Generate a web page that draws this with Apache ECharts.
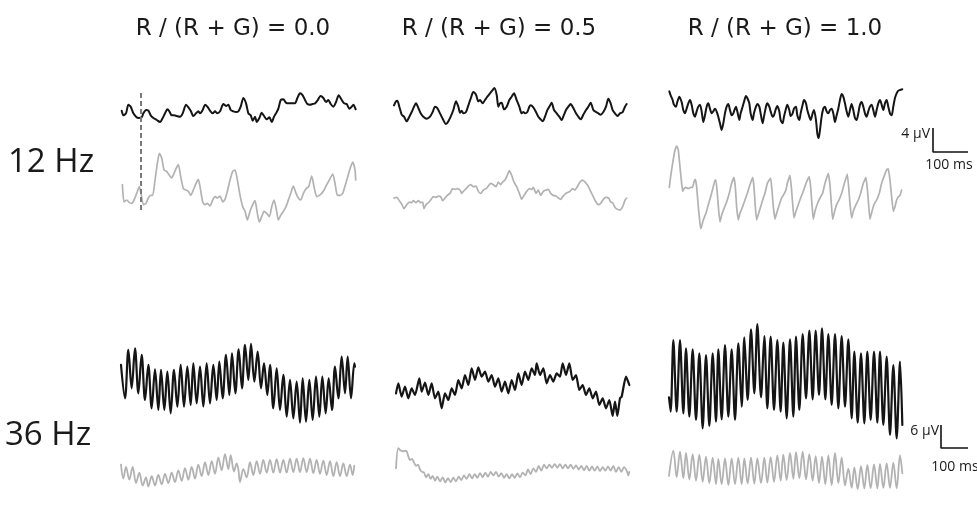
<!DOCTYPE html>
<html><head><meta charset="utf-8">
<script src="https://cdn.jsdelivr.net/npm/echarts/dist/echarts.min.js"></script>
<style>html,body{margin:0;padding:0;background:#fff}#c{width:977px;height:518px}</style>
</head><body><div id="c"></div>
<script>
// ---------------- DATA (time in ms, amplitude in µV-like units) ----------------
const columnTitles = ['R / (R + G) = 0.0', 'R / (R + G) = 0.5', 'R / (R + G) = 1.0'];
const rowLabels = ['12 Hz', '36 Hz'];

const black12_00 = [[0,-0.1],[5,-0.8],[13,-0.5],[20,0.8],[27,0.5],[35,-0.5],[43,-1.0],[50,-1.2],[60,-1.1],[65,-0.5],[73,0],[80,-0.1],[87,-0.8],[95,-1.2],[105,-1.5],[115,-1.8],[123,-1.2],[130,-0.5],[137,0.1],[143,-0.2],[150,-0.8],[157,-0.8],[165,-0.9],[175,-1.0],[183,-0.5],[193,0.8],[200,0.4],[207,-0.1],[215,-0.9],[223,-0.5],[230,-0.2],[235,-0.5],[243,0],[250,0.8],[257,0.5],[265,-0.1],[273,-0.5],[280,-0.2],[287,-0.5],[295,-0.2],[305,0.9],[313,0.6],[320,0.8],[327,0],[335,-0.2],[343,-0.3],[350,-0.2],[357,0.5],[365,1.8],[373,1.0],[380,-0.5],[387,-0.8],[393,-1.6],[400,-1.0],[405,-1.8],[413,-1.2],[420,-0.4],[427,-0.9],[435,-1.4],[443,-1.1],[450,-1.8],[457,-1.0],[463,-0.5],[470,0.2],[477,1.5],[485,1.6],[493,1.1],[500,1.0],[510,1.0],[520,1.0],[527,1.8],[535,2.5],[543,2.2],[550,1.5],[557,0.9],[565,0.8],[573,0.9],[580,1.0],[587,1.4],[597,2.1],[605,1.8],[613,1.2],[620,1.5],[627,0.9],[635,0.5],[643,1.2],[651,2.2],[660,1.5],[667,1.0],[675,0.9],[683,0.2],[690,0.5],[695,0.8],[702,0.1]];
const gray12_00 = [[2,0.8],[7,-1.8],[15,-1.5],[23,-1.9],[30,-2.0],[37,-1.5],[45,-0.5],[53,0.5],[58,-0.5],[65,-2.2],[73,-2.0],[80,-1.2],[87,-0.8],[93,-0.8],[100,1.5],[107,4.0],[113,5.5],[120,4.8],[127,3.0],[135,2.8],[143,2.2],[150,1.8],[157,2.5],[163,3.2],[170,3.8],[177,2.0],[185,0.2],[193,0],[200,-0.2],[207,-0.8],[215,0],[223,1.0],[230,1.6],[235,0.5],[243,-1.8],[250,-2.2],[257,-2.0],[265,-2.4],[273,-1.5],[280,-1.0],[287,-1.2],[295,-0.9],[303,-1.8],[310,-1.4],[317,-0.2],[325,1.5],[333,2.8],[340,3.0],[347,1.5],[355,-0.8],[363,-2.5],[370,-3.2],[377,-4.5],[385,-3.2],[393,-2.2],[400,-1.6],[407,-3.5],[413,-4.8],[420,-4.0],[427,-3.2],[435,-3.5],[443,-4.0],[450,-2.5],[457,-1.5],[465,-3.2],[470,-4.5],[477,-3.8],[485,-3.2],[493,-2.5],[500,-1.5],[507,-0.5],[515,0.6],[523,-0.5],[530,-1.2],[537,-1.5],[545,-0.5],[553,0.2],[561,0.5],[570,2.1],[577,0.5],[585,-1.0],[593,-0.8],[600,-0.5],[607,0],[615,0.8],[623,1.5],[633,2.4],[640,1.0],[647,-0.8],[655,-0.8],[663,-0.5],[670,0.6],[677,1.8],[685,3.2],[693,4.2],[700,3.0],[702,1.5]];

const black12_05 = [[0,0.2],[6,0.8],[10,0.9],[16,0],[23,-1.2],[30,-1.5],[38,-2.2],[46,-1.5],[53,-0.8],[60,0],[66,0.5],[73,-0.2],[80,-1.0],[88,-1.5],[98,-1.8],[108,-1.5],[116,-0.8],[123,0],[130,-0.2],[138,-1.0],[146,-1.8],[156,-2.6],[163,-2.2],[170,-1.5],[178,-0.5],[186,0.8],[193,0],[198,-0.9],[203,-0.6],[208,-1.0],[216,-0.8],[223,0.2],[230,1.2],[238,2.2],[246,1.8],[253,0.8],[258,1.0],[266,0.5],[273,1.0],[280,1.5],[288,2.0],[296,2.5],[301,2.8],[308,1.8],[313,0],[318,0.5],[323,0.6],[330,-0.4],[338,0],[346,1.0],[353,1.5],[360,2.0],[368,1.0],[376,0],[383,-1.0],[388,-0.8],[393,-1.0],[400,-0.8],[406,0],[410,0.2],[418,-0.1],[426,-0.8],[433,-1.5],[440,-1.9],[446,-2.2],[453,-1.5],[460,-0.5],[466,0],[473,0.6],[480,-0.5],[488,-1.0],[496,-1.5],[503,-2.0],[510,-1.2],[516,-0.5],[523,0],[530,0.4],[538,-0.2],[546,-1.0],[553,-1.5],[560,-1.9],[568,-1.2],[576,-0.5],[583,0],[590,0.6],[598,-0.5],[606,-0.8],[613,-1.0],[620,-1.2],[628,-0.8],[636,0],[643,1.2],[650,0.5],[656,-0.5],[663,-1.0],[670,-1.4],[678,-1.0],[686,-0.8],[693,0],[698,0.4]];
const gray12_05 = [[0,-0.2],[8,-0.1],[16,-0.6],[23,-1.1],[30,-1.8],[38,-1.2],[46,-0.8],[53,-0.9],[58,-0.6],[66,-0.9],[73,-0.6],[80,-0.9],[86,-0.8],[90,-1.8],[96,-1.2],[103,-0.9],[110,-0.5],[118,0],[126,-0.1],[133,0.1],[140,0],[146,-0.6],[153,-0.2],[160,0.2],[168,0.5],[176,1.2],[183,1.1],[190,1.2],[198,1.0],[203,0.5],[208,0.8],[216,1.2],[223,1.6],[230,1.8],[238,1.5],[246,1.6],[253,0.8],[260,0.5],[268,1.0],[276,1.2],[283,1.6],[290,2.0],[298,1.8],[306,1.5],[313,2.2],[320,1.8],[326,2.2],[333,2.5],[340,3.2],[346,3.9],[353,3.2],[360,2.2],[368,1.5],[376,0.5],[383,-0.4],[390,0.2],[398,0.8],[406,1.2],[413,1.1],[418,1.4],[426,0.5],[433,1.0],[440,0.2],[448,0.8],[456,1.0],[463,1.1],[470,0.5],[478,0.2],[486,0.1],[493,-0.2],[500,-0.4],[506,0],[513,0.4],[520,0.6],[528,0.8],[536,1.2],[543,1.0],[550,1.5],[558,2.2],[566,2.5],[573,2.2],[580,1.8],[588,1.0],[596,0.2],[606,-0.8],[613,-1.2],[620,-1.0],[628,-0.4],[636,-0.1],[644,-0.2],[650,-0.8],[656,-0.9],[663,-1.6],[670,-1.9],[678,-2.0],[686,-1.5],[693,-0.5],[698,-0.2]];

const black12_10 = [[0,2.8],[4,2.2],[10,1.5],[14,0.8],[20,0.5],[24,1.2],[30,2.0],[37,1.2],[42,0],[47,-0.5],[52,0.2],[57,1.0],[62,1.5],[67,0.8],[72,-0.5],[77,-1.0],[82,-0.2],[87,0.5],[92,0.8],[97,-0.2],[102,-1.8],[107,-0.8],[112,0.5],[117,1.0],[122,0.2],[127,-0.5],[132,-0.2],[137,0.2],[144,-0.5],[152,-2.0],[157,-3.0],[162,-2.0],[167,-0.5],[172,0.5],[177,0.9],[182,0],[187,-0.8],[192,-0.5],[197,0.2],[200,0.5],[204,-0.2],[210,-1.5],[214,-0.5],[220,0.5],[224,1.2],[230,2.1],[234,1.8],[240,1.0],[244,-0.5],[250,-1.5],[254,-0.5],[260,0.5],[264,0.9],[270,0.5],[274,-0.5],[280,-2.0],[284,-1.0],[290,0.5],[294,1.0],[300,0.5],[304,-0.2],[310,-1.0],[314,-0.8],[320,0.2],[324,0.6],[330,-0.2],[334,-1.5],[340,-2.0],[344,-1.0],[350,0.2],[354,0.8],[360,0],[364,-0.9],[370,-0.5],[374,0.2],[380,0.5],[384,-0.8],[390,-1.5],[394,-0.5],[400,0.8],[404,1.5],[410,1.0],[414,0],[420,-1.0],[424,-1.5],[430,-0.5],[434,0],[440,-1.5],[444,-3.5],[448,-4.2],[452,-3.0],[457,-1.0],[462,0.2],[467,0.5],[472,-0.2],[477,-0.5],[482,0],[487,0.2],[492,-0.5],[497,-1.8],[502,-0.8],[507,0.2],[512,1.5],[517,2.4],[522,2.0],[527,1.0],[532,-0.2],[537,-1.0],[542,0],[547,0.9],[552,0],[557,-1.2],[562,-1.5],[567,-0.5],[572,0.8],[577,1.2],[582,0.5],[587,-0.5],[592,-1.0],[597,-0.2],[602,0.5],[607,0.8],[612,0],[617,-1.0],[622,0],[627,1.0],[632,1.5],[637,0.8],[642,0],[647,1.0],[652,1.5],[657,0.5],[662,-0.5],[667,-0.8],[672,0.5],[677,1.8],[682,2.5],[687,2.9],[692,3.0],[699,3.1]];
const gray12_10 = [[0,0.4],[4,2.0],[10,4.0],[17,6.0],[22,6.6],[27,6.0],[32,3.5],[37,1.0],[40,-0.2],[44,0.2],[50,0.4],[57,0.2],[64,0.4],[70,0.4],[74,1.2],[78,1.6],[82,0.5],[87,-2.5],[92,-5.0],[95,-5.8],[102,-4.5],[110,-3.5],[117,-2.2],[124,-1.0],[132,0.5],[137,1.5],[140,1.5],[144,-0.5],[148,-3.0],[152,-4.8],[157,-3.8],[164,-2.8],[172,-1.8],[180,-0.5],[187,1.0],[194,1.9],[198,0.5],[202,-2.5],[207,-4.5],[212,-3.5],[220,-2.5],[227,-1.5],[234,-0.5],[242,0.8],[250,1.9],[254,0.5],[258,-2.5],[262,-4.5],[268,-3.5],[276,-2.2],[282,-1.2],[287,-0.5],[294,1.0],[304,1.8],[308,0],[312,-2.5],[317,-4.4],[322,-3.5],[330,-2.2],[337,-1.2],[342,-0.8],[350,0],[354,1.0],[362,2.2],[366,0.5],[370,-2.0],[374,-4.2],[380,-3.2],[387,-2.2],[394,-1.2],[402,-0.2],[410,1.0],[420,2.0],[424,0.5],[428,-2.2],[432,-4.4],[437,-3.2],[444,-2.1],[452,-1.2],[460,-0.5],[467,1.0],[477,2.5],[482,0.8],[486,-2.0],[490,-4.4],[496,-3.2],[502,-2.2],[510,-1.4],[517,-0.5],[524,0.8],[534,2.4],[538,0.5],[542,-2.0],[547,-4.2],[552,-3.2],[560,-2.2],[567,-1.5],[574,-0.5],[582,1.0],[590,1.9],[594,0.2],[598,-2.2],[602,-4.4],[607,-3.4],[614,-2.2],[622,-1.5],[630,-0.5],[637,1.0],[644,2.0],[652,3.0],[657,3.2],[662,1.5],[667,-1.0],[672,-3.2],[677,-2.5],[682,-1.5],[687,-1.0],[692,-0.8],[697,0]];

const black36_00 = [[0,5.5],[12,-4.5],[22,10.0],[32,-1.5],[42,10.5],[52,-3.0],[62,8.5],[72,-5.0],[82,5.5],[92,-7.5],[102,4.2],[112,-8.0],[120,4.0],[130,-8.0],[139,3.5],[149,-9.0],[159,4.0],[169,-7.0],[179,5.5],[189,-7.0],[199,5.0],[209,-6.5],[217,6.0],[227,-6.0],[237,5.0],[247,-7.0],[257,6.0],[267,-6.0],[277,5.5],[287,-5.0],[295,6.5],[305,-4.5],[315,8.5],[325,-3.5],[333,9.0],[343,-3.0],[353,10.2],[363,-1.5],[372,11.5],[382,1.0],[390,11.8],[400,0.5],[410,9.5],[420,-1.5],[429,6.0],[439,-3.5],[447,5.5],[457,-7.5],[467,4.5],[477,-8.0],[487,2.5],[497,-10.0],[507,1.0],[517,-10.5],[527,0.5],[537,-11.8],[545,1.5],[555,-11.5],[565,1.0],[575,-11.0],[585,2.0],[595,-10.0],[604,2.0],[614,-9.0],[623,1.5],[633,-8.0],[642,5.0],[652,-4.5],[662,8.0],[672,-3.0],[680,8.0],[690,-4.5],[700,6.0],[702,5.0]];
const gray36_00 = [[0,3.0],[7,-3.0],[15,2.0],[25,-3.5],[35,2.0],[45,-5.0],[55,-0.5],[65,-6.0],[75,-2.5],[82,-6.5],[92,-2.0],[102,-6.0],[112,-1.5],[122,-5.5],[132,-1.0],[142,-5.0],[152,-0.5],[162,-4.5],[172,0.5],[182,-4.0],[192,1.5],[202,-3.5],[212,2.0],[222,-3.0],[232,3.0],[242,-2.0],[252,4.0],[262,-1.5],[272,4.5],[282,-1.0],[292,6.0],[302,0.5],[312,7.5],[322,1.0],[329,7.0],[339,0],[347,3.5],[352,1.0],[357,-4.5],[367,1.0],[377,-2.5],[387,4.0],[397,-1.5],[407,4.5],[417,-1.0],[427,5.0],[437,-0.5],[447,5.0],[457,-0.5],[467,5.3],[477,-0.5],[487,5.0],[497,-0.5],[507,5.5],[517,-0.3],[527,5.5],[537,-0.3],[547,5.7],[557,-0.3],[567,5.5],[577,-0.7],[587,5.0],[597,-1.0],[607,4.7],[617,-1.5],[627,4.5],[637,-2.0],[647,4.0],[657,-2.0],[667,3.5],[677,-2.0],[687,3.0],[695,-1.5],[700,2.5]];

const black36_05 = [[0,-1.0],[7,2.0],[17,-2.0],[27,1.0],[37,-2.5],[47,0.5],[57,-1.5],[70,3.5],[77,-0.5],[87,2.2],[97,-1.5],[107,2.0],[117,-2.5],[127,-0.5],[137,-5.5],[147,-1.0],[157,-3.0],[167,0.5],[177,-1.5],[187,3.0],[197,0.5],[207,4.5],[217,1.5],[227,6.5],[237,3.0],[247,6.8],[257,4.0],[267,5.5],[277,2.5],[287,4.5],[297,1.0],[307,3.5],[317,-0.5],[327,2.5],[337,-1.0],[347,3.0],[357,0],[367,5.0],[377,1.5],[387,5.5],[397,3.0],[407,6.5],[417,4.5],[422,8.0],[432,4.5],[442,6.5],[452,2.0],[462,4.5],[472,2.5],[482,5.0],[492,4.0],[500,8.0],[510,4.5],[520,8.0],[530,3.0],[540,4.5],[550,0],[560,1.5],[570,-1.5],[580,0.5],[590,-2.5],[600,-0.5],[610,-4.5],[620,-2.5],[630,-5.5],[640,-3.0],[650,-7.8],[657,-3.5],[664,-7.8],[672,-2.5],[677,-2.0],[690,4.0],[700,1.5]];
const gray36_05 = [[0,1.0],[7,9.5],[14,8.5],[22,8.2],[30,8.5],[37,6.0],[42,4.5],[48,5.0],[54,3.5],[60,2.0],[66,2.5],[72,0.5],[78,-0.5],[84,-0.8],[90,-2.8],[97,-1.5],[104,-3.5],[110,-2.2],[117,-4.2],[124,-2.5],[132,-4.5],[140,-2.8],[148,-5.0],[156,-3.2],[164,-4.8],[172,-3.0],[180,-4.5],[188,-2.5],[196,-4.0],[204,-2.0],[212,-3.5],[220,-1.5],[228,-3.2],[236,-1.5],[244,-3.0],[252,-1.0],[260,-2.8],[268,-0.8],[276,-2.5],[284,-0.5],[292,-2.0],[300,-0.5],[308,-2.5],[316,-1.0],[324,-3.0],[332,-1.5],[340,-3.2],[348,-1.5],[356,-3.0],[364,-1.2],[372,-2.8],[380,-0.8],[388,-2.0],[396,0.5],[404,-1.5],[412,1.0],[420,-0.5],[428,2.0],[436,0],[444,2.5],[452,1.0],[460,2.5],[468,1.2],[476,2.8],[484,1.2],[492,2.8],[500,1.0],[508,2.5],[516,1.0],[524,2.5],[532,0.8],[540,2.2],[548,0.5],[556,2.0],[564,0.2],[572,2.0],[580,0],[588,1.8],[596,0],[604,1.8],[612,-0.2],[620,1.5],[628,0],[636,1.8],[644,0],[652,2.0],[660,-0.5],[668,1.5],[676,-0.5],[684,1.5],[692,0],[697,-2.0],[700,-0.5]];

const black36_10 = [[0,-5.2],[5,-9.5],[13,12.0],[23,-9.5],[33,12.0],[43,-10.0],[51,9.5],[61,-11.0],[71,9.2],[81,-12.0],[91,8.0],[101,-14.5],[111,7.5],[121,-13.8],[131,8.0],[141,-12.5],[148,9.2],[158,-11.8],[168,10.5],[178,-11.0],[188,9.2],[198,-12.0],[208,11.0],[218,-8.0],[226,12.8],[236,-6.0],[246,15.2],[256,-4.0],[265,16.8],[276,-5.2],[286,13.2],[295,-8.5],[305,13.0],[315,-9.0],[325,12.0],[335,-9.5],[343,11.2],[353,-11.5],[363,12.2],[373,-11.0],[381,13.0],[391,-9.0],[401,13.8],[411,-5.5],[421,14.8],[431,-5.8],[440,14.8],[450,-4.5],[459,15.5],[469,-5.8],[478,13.8],[488,-7.5],[498,13.8],[508,-8.5],[518,13.2],[528,-8.0],[538,12.2],[548,-11.5],[556,8.5],[566,-12.8],[576,8.0],[586,-13.0],[595,8.5],[605,-12.0],[615,8.5],[625,-12.8],[633,8.5],[643,-13.5],[653,7.0],[663,-16.5],[673,4.5],[683,-17.5],[693,5.5],[700,-13.5]];
const gray36_10 = [[0,-2.5],[13,8.0],[23,-3.0],[33,7.5],[43,-3.5],[51,7.0],[61,-4.0],[71,6.5],[81,-4.5],[91,6.3],[101,-5.0],[111,5.5],[121,-5.5],[131,5.0],[141,-6.0],[148,4.5],[158,-6.0],[168,4.7],[178,-6.3],[188,4.7],[198,-6.0],[208,5.0],[218,-6.0],[226,4.7],[236,-5.7],[246,5.0],[256,-5.7],[265,4.7],[276,-5.5],[286,5.0],[295,-5.3],[305,5.3],[315,-5.0],[325,6.0],[335,-4.5],[343,6.3],[353,-4.3],[363,7.0],[373,-3.7],[381,7.3],[391,-3.5],[401,7.5],[411,-4.0],[421,6.5],[431,-4.5],[440,5.7],[450,-5.5],[459,5.5],[469,-6.0],[478,6.0],[488,-6.3],[498,7.0],[508,-5.5],[518,5.0],[528,-6.5],[538,0.5],[548,-7.5],[556,1.0],[566,-8.0],[576,1.5],[586,-7.7],[595,2.0],[605,-7.7],[615,2.3],[625,-7.7],[633,2.5],[643,-7.5],[653,2.7],[663,-7.5],[673,3.0],[683,-7.7],[693,6.0],[700,-1.5]];

const markerTimeMs = 58;                 // dashed vertical marker, panel 12 Hz / 0.0
const scaleBar12 = { amplitude: 4, duration: 100, unit: 'µV' };
const scaleBar36 = { amplitude: 6, duration: 100, unit: 'µV' };

// ---------------- LAYOUT (pixels) ----------------
const S12 = 20 / 3, S36 = 10 / 3;   // px per amplitude unit
const PX_PER_MS = 1 / 3;
const T_MAX = 720;
const BLACK = '#151515', GRAY = '#b2b2b2';
const traces = [
  { data: black12_00, x0: 121.7, y0: 110,    s: S12, R: 10, color: BLACK, w: 2,   sm: 0.25 },
  { data: gray12_00,  x0: 121.7, y0: 190,    s: S12, R: 10, color: GRAY,  w: 1.7, sm: 0.2 },
  { data: black12_05, x0: 394,   y0: 106.7,  s: S12, R: 10, color: BLACK, w: 2,   sm: 0.25 },
  { data: gray12_05,  x0: 394,   y0: 196.7,  s: S12, R: 10, color: GRAY,  w: 1.7, sm: 0.2 },
  { data: black12_10, x0: 669.3, y0: 110,    s: S12, R: 10, color: BLACK, w: 2,   sm: 0.25 },
  { data: gray12_10,  x0: 669.3, y0: 190,    s: S12, R: 10, color: GRAY,  w: 1.7, sm: 0.1 },
  { data: black36_00, x0: 121,   y0: 383.3,  s: S36, R: 20, color: BLACK, w: 2.2, sm: 0.35 },
  { data: gray36_00,  x0: 121,   y0: 491.7,  s: S36, R: 20, color: GRAY,  w: 1.8, sm: 0.35 },
  { data: black36_05, x0: 396,   y0: 390,    s: S36, R: 20, color: BLACK, w: 2.2, sm: 0.2 },
  { data: gray36_05,  x0: 396,   y0: 490,    s: S36, R: 20, color: GRAY,  w: 1.8, sm: 0.3 },
  { data: black36_10, x0: 669,   y0: 380,    s: S36, R: 20, color: BLACK, w: 2.2, sm: 0.3 },
  { data: gray36_10,  x0: 669,   y0: 488.3,  s: S36, R: 20, color: GRAY,  w: 1.8, sm: 0.35 }
];

const grid = [], xAxis = [], yAxis = [], series = [];
function addGrid(g, xa, ya, s) {
  const i = grid.length;
  grid.push(Object.assign({ containLabel: false, show: false }, g));
  xAxis.push(Object.assign({ type: 'value', gridIndex: i, show: false, splitLine: { show: false } }, xa));
  yAxis.push(Object.assign({ type: 'value', gridIndex: i, show: false, splitLine: { show: false } }, ya));
  series.push(Object.assign({ type: 'line', xAxisIndex: i, yAxisIndex: i, showSymbol: false, symbol: 'none',
    animation: false, clip: false, silent: true }, s));
}
traces.forEach(t => {
  addGrid({ left: t.x0, width: T_MAX * PX_PER_MS, top: t.y0 - t.R * t.s, height: 2 * t.R * t.s },
    { min: 0, max: T_MAX }, { min: -t.R, max: t.R },
    { data: t.data, smooth: t.sm, lineStyle: { color: t.color, width: t.w, join: 'round', cap: 'round' } });
});
// dashed marker across both 12 Hz traces of the first column
addGrid({ left: 121.7, width: T_MAX * PX_PER_MS, top: 93, height: 119 },
  { min: 0, max: T_MAX }, { min: 0, max: 1 },
  { data: [[markerTimeMs, 1], [markerTimeMs, 0]], lineStyle: { color: '#7a7a7a', width: 2, type: [5, 3] } });
// scale bars
function scaleBar(sb, left, top, w, h) {
  addGrid({ left: left, top: top, width: w, height: h },
    { min: 0, max: sb.duration }, { min: 0, max: sb.amplitude },
    { data: [[0, sb.amplitude], [0, 0], [sb.duration, 0]], lineStyle: { color: '#111', width: 1.6 } });
}
scaleBar(scaleBar12, 933, 128, 35, 24);
scaleBar(scaleBar36, 941, 425, 27, 23);

function txt(x, y, text, font, align) {
  return { type: 'text', x: x, y: y, silent: true,
    style: { text: text, font: font, fill: '#1a1a1a', textAlign: align, align: align,
             textVerticalAlign: 'middle', verticalAlign: 'middle' } };
}
const graphic = [
  txt(233, 29, columnTitles[0], '23px "DejaVu Sans"', 'center'),
  txt(499, 29, columnTitles[1], '23px "DejaVu Sans"', 'center'),
  txt(785, 29, columnTitles[2], '23px "DejaVu Sans"', 'center'),
  txt(8, 163, rowLabels[0], '33px "Open Sans"', 'left'),
  txt(5, 436, rowLabels[1], '33px "Open Sans"', 'left'),
  txt(930, 134, scaleBar12.amplitude + ' ' + scaleBar12.unit, '14px "Open Sans"', 'right'),
  txt(949, 165, scaleBar12.duration + ' ms', '14px "Open Sans"', 'center'),
  txt(939, 431, scaleBar36.amplitude + ' ' + scaleBar36.unit, '14px "Open Sans"', 'right'),
  txt(955, 467, scaleBar36.duration + ' ms', '14px "Open Sans"', 'center')
];

const chart = echarts.init(document.getElementById('c'), null, { renderer: 'canvas' });
chart.setOption({ animation: false, backgroundColor: '#fff', grid, xAxis, yAxis, series, graphic });
</script></body></html>
